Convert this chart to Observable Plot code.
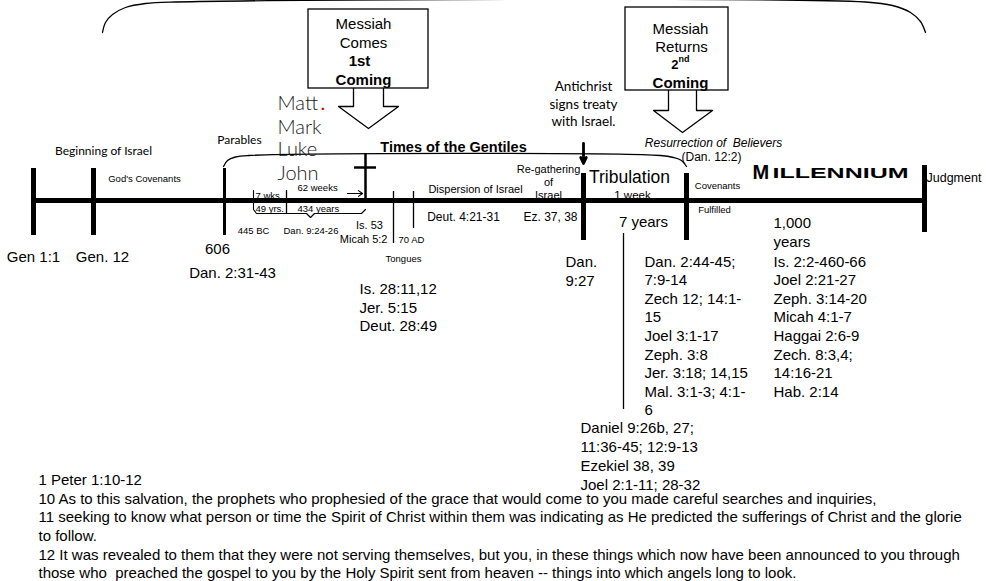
<!DOCTYPE html>
<html><head><meta charset="utf-8">
<script src="https://cdn.jsdelivr.net/npm/d3@7"></script>
<script src="https://cdn.jsdelivr.net/npm/@observablehq/plot@0.6"></script>
<style>html,body{margin:0;padding:0;background:#fff}</style>
</head><body><div id="chart"></div>
<script>
// ---------- DATA (diagram units along the timeline) ----------
const timeline = [{x1: 33, x2: 924, y: 200}];
const majorTicks = [
  {x: 33, y1: 168, y2: 235},   // Gen 1:1
  {x: 93, y1: 168, y2: 235},   // Gen 12
  {x: 583, y1: 173, y2: 240},  // Tribulation begins
  {x: 686, y1: 173, y2: 240},  // 2nd coming
  {x: 924, y1: 165, y2: 232}   // Judgment
];
const mediumTicks = [{x: 224, y1: 168, y2: 235}]; // 606
const thinTicks = [
  {x: 286, y1: 190, y2: 213},
  {x: 393, y1: 191, y2: 243},
  {x: 413, y1: 191, y2: 228},
  {x: 623, y1: 233, y2: 409}
];
const crossUpright = [{x: 365, y1: 153, y2: 200}];
const crossBeam = [{y: 167, x1: 354, x2: 376}];

const brackets = [
  // outer arc
  {id: "outer", x: 102, y: 32}, {id: "outer", x: 105, y: 22}, {id: "outer", x: 112, y: 14},
  {id: "outer", x: 125, y: 7}, {id: "outer", x: 145, y: 3}, {id: "outer", x: 175, y: 1.5},
  {id: "outer", x: 865, y: 1.5}, {id: "outer", x: 892, y: 5}, {id: "outer", x: 910, y: 12},
  {id: "outer", x: 920, y: 21}, {id: "outer", x: 925, y: 32},
  // Times of the Gentiles
  {id: "gentiles", x: 223, y: 166}, {id: "gentiles", x: 227, y: 160}, {id: "gentiles", x: 235, y: 156.5},
  {id: "gentiles", x: 248, y: 155}, {id: "gentiles", x: 660, y: 155}, {id: "gentiles", x: 673, y: 157},
  {id: "gentiles", x: 681, y: 160}, {id: "gentiles", x: 686, y: 166}
];
const weeksBrace = [
  {x: 253, y: 190}, {x: 253, y: 209}, {x: 256, y: 213}, {x: 306, y: 213}, {x: 310, y: 217},
  {x: 314, y: 213}, {x: 361, y: 213}, {x: 365, y: 209}
];
const boxes = [{x1: 308, y1: 9, x2: 428, y2: 88}, {x1: 625, y1: 7, x2: 728, y2: 90}];
const blockArrows = [
  {id: 1, x: 353, y: 88}, {id: 1, x: 353, y: 106}, {id: 1, x: 338, y: 106}, {id: 1, x: 368, y: 128},
  {id: 1, x: 398, y: 106}, {id: 1, x: 383, y: 106}, {id: 1, x: 383, y: 88},
  {id: 2, x: 668, y: 90}, {id: 2, x: 668, y: 110}, {id: 2, x: 653, y: 110}, {id: 2, x: 682, y: 132},
  {id: 2, x: 712, y: 110}, {id: 2, x: 696, y: 110}, {id: 2, x: 696, y: 90}
];
const treatyArrow = [{x: 583, y1: 143, y2: 163}];
const weeksArrow = [{x1: 347, x2: 362, y: 193}];

// ---------- TEXT ----------
const refsLarge = [
  {t: "Gen 1:1", x: 33, y: 257}, {t: "Gen. 12", x: 102, y: 257},
  {t: "606", x: 217, y: 249}, {t: "Dan. 2:31-43", x: 232, y: 273},
  {t: "7 years", x: 643, y: 222},
  {t: "Messiah", x: 363, y: 24}, {t: "Comes", x: 363, y: 43},
  {t: "Messiah", x: 680, y: 29}, {t: "Returns", x: 681, y: 47}
];
const boxBold = [{t: "1st", x: 359, y: 61}, {t: "Coming", x: 363, y: 80}, {t: "Coming", x: 680, y: 83}];
const refsLargeStart = [
  {t: "Dan.", x: 565, y: 262}, {t: "9:27", x: 565, y: 281},
  {t: "1,000", x: 773, y: 223}, {t: "years", x: 773, y: 242}
];
const tribRefs = ["Dan. 2:44-45;", "7:9-14", "Zech 12; 14:1-", "15", "Joel 3:1-17", "Zeph. 3:8",
  "Jer. 3:18; 14,15", "Mal. 3:1-3; 4:1-", "6"];
const millRefs = ["Is. 2:2-460-66", "Joel 2:21-27", "Zeph. 3:14-20", "Micah 4:1-7", "Haggai 2:6-9",
  "Zech. 8:3,4;", "14:16-21", "Hab. 2:14"];
const danielRefs = ["Daniel 9:26b, 27;", "11:36-45; 12:9-13", "Ezekiel 38, 39", "Joel 2:1-11; 28-32"];
const tonguesRefs = ["Is. 28:11,12", "Jer. 5:15", "Deut. 28:49"];
const passage = [
  "1 Peter 1:10-12",
  "10 As to this salvation, the prophets who prophesied of the grace that would come to you made careful searches and inquiries,",
  "11 seeking to know what person or time the Spirit of Christ within them was indicating as He predicted the sufferings of Christ and the glorie",
  "to follow.",
  "12 It was revealed to them that they were not serving themselves, but you, in these things which now have been announced to you through",
  "those who  preached the gospel to you by the Holy Spirit sent from heaven -- things into which angels long to look."
];
const listBlocks = [
  {t: tribRefs.join("\n"), x: 644, y: 252.8},
  {t: millRefs.join("\n"), x: 773, y: 252.8}
];
const danielBlock = [{t: danielRefs.join("\n"), x: 580, y: 418.8}];
const tonguesBlock = [{t: tonguesRefs.join("\n"), x: 359, y: 280.8}];
const passageBlock = [{t: passage.join("\n"), x: 38, y: 471.5}];

const midLabels12 = [
  {t: "Deut. 4:21-31", x: 463, y: 217}, {t: "Ez. 37, 38", x: 550, y: 217}
];
const midLabels11 = [{t: "Is. 53", x: 369, y: 225}, {t: "Dispersion of Israel", x: 475, y: 189}];
const micahLabel = [{t: "Micah 5:2", x: 387, y: 239}];
const smallStart = [
  {t: "70 AD", x: 398, y: 239, }, {t: "62 weeks", x: 297, y: 187}, {t: "434 years", x: 297, y: 208},
  {t: "Dan. 9:24-26", x: 283, y: 230}, {t: "7 wks", x: 255, y: 195}, {t: "49 yrs.", x: 255, y: 208}
];
const smallMid = [
  {t: "God's Covenants", x: 144, y: 178}, {t: "Tongues", x: 403, y: 258}, {t: "445 BC", x: 253, y: 230},
  {t: "Covenants", x: 717, y: 185}, {t: "Fulfilled", x: 714, y: 209}
];
const regather = [{t: "Re-gathering\nof\nIsrael", x: 548, y: 163}];
const weekLabel = [{t: "1 week", x: 632, y: 195}];
const tribLabel = [{t: "Tribulation", x: 629, y: 177}];
const judgment = [{t: "Judgment", x: 926, y: 177}];
const resurrection = [{t: "Resurrection of  Believers", x: 713, y: 143}];
const resurrectionRef = [{t: "(Dan. 12:2)", x: 711, y: 157}];
const gentiles = [{t: "Times of the Gentiles", x: 453, y: 147}];
const calibriLabels = [{t: "Beginning of Israel", x: 103, y: 151}, {t: "Parables", x: 239, y: 140}];
const antichrist = [{t: "Antichrist", x: 583, y: 86}, {t: "signs treaty", x: 583, y: 104}, {t: "with Israel.", x: 583, y: 121}];
const gospels = [{t: "Matt", x: 277, y: 103}, {t: "Mark", x: 277, y: 127}, {t: "Luke", x: 277, y: 149}, {t: "John", x: 277, y: 173}];
const mattDot = [{t: ".", x: 320, y: 103}];
const millM = [{t: "M", x: 752, y: 172}];
const millRest = [{t: "ILLENNIUM", x: 772, y: 173}];
const secondNum = [{t: "2", x: 678, y: 64}];
const secondSup = [{t: "nd", x: 678, y: 59}];

// ---------- RENDER ----------
const ARIAL = "Liberation Sans, Arial, Helvetica, sans-serif";
const CAL = "Lato, 'Open Sans', sans-serif";
const T = (data, o) => Plot.text(data, {x: "x", y: "y", text: "t", fill: "#000", fontFamily: ARIAL, ...o});

const svg = Plot.plot({
  width: 986, height: 581, margin: 0,
  x: {domain: [0, 986], range: [0, 986], axis: null},
  y: {domain: [0, 581], range: [0, 581], axis: null},
  style: {background: "white", fontFamily: ARIAL, color: "black"},
  marks: [
    // labels that the timeline overprints
    T(regather, {fontSize: 11, lineAnchor: "top", lineHeight: 1.2}),
    T(weekLabel, {fontSize: 11.5}),
    T(smallStart, {fontSize: 9.5, textAnchor: "start"}),
    // lines
    Plot.line(brackets, {x: "x", y: "y", z: "id", curve: "catmull-rom", stroke: "black", strokeWidth: 1.3}),
    Plot.line(weeksBrace, {x: "x", y: "y", stroke: "black", strokeWidth: 1.1}),
    Plot.ruleY(timeline, {y: "y", x1: "x1", x2: "x2", stroke: "black", strokeWidth: 5}),
    Plot.ruleX(majorTicks, {x: "x", y1: "y1", y2: "y2", stroke: "black", strokeWidth: 5}),
    Plot.ruleX(mediumTicks, {x: "x", y1: "y1", y2: "y2", stroke: "black", strokeWidth: 3}),
    Plot.ruleX(thinTicks, {x: "x", y1: "y1", y2: "y2", stroke: "black", strokeWidth: 1.3}),
    Plot.ruleX(crossUpright, {x: "x", y1: "y1", y2: "y2", stroke: "black", strokeWidth: 2.5}),
    Plot.ruleY(crossBeam, {y: "y", x1: "x1", x2: "x2", stroke: "black", strokeWidth: 2.5}),
    Plot.arrow(treatyArrow, {x1: "x", x2: "x", y1: "y1", y2: "y2", stroke: "black", strokeWidth: 2.8, headLength: 8, headAngle: 50}),
    Plot.arrow(weeksArrow, {x1: "x1", x2: "x2", y1: "y", y2: "y", stroke: "black", strokeWidth: 1.2, headLength: 8, headAngle: 70}),
    Plot.rect(boxes, {x1: "x1", x2: "x2", y1: "y1", y2: "y2", fill: "white", stroke: "black", strokeWidth: 1.3}),
    Plot.line(blockArrows, {x: "x", y: "y", z: "id", stroke: "black", strokeWidth: 1.3}),
    // text
    T(refsLarge, {fontSize: 15}),
    T(boxBold, {fontSize: 15, fontWeight: "bold"}),
    T(secondNum, {fontSize: 13, fontWeight: "bold", textAnchor: "end"}),
    T(secondSup, {fontSize: 9, fontWeight: "bold", textAnchor: "start"}),
    T(refsLargeStart, {fontSize: 15, textAnchor: "start"}),
    T(listBlocks, {fontSize: 15, textAnchor: "start", lineAnchor: "top", lineHeight: 1.24}),
    T(danielBlock, {fontSize: 15, textAnchor: "start", lineAnchor: "top", lineHeight: 1.27}),
    T(tonguesBlock, {fontSize: 15, textAnchor: "start", lineAnchor: "top", lineHeight: 1.23}),
    T(passageBlock, {fontSize: 15, textAnchor: "start", lineAnchor: "top", lineHeight: 1.24}),
    T(midLabels12, {fontSize: 12}),
    T(midLabels11, {fontSize: 11}),
    T(micahLabel, {fontSize: 11, textAnchor: "end"}),
    T(smallMid, {fontSize: 9.5}),
    T(tribLabel, {fontSize: 17.5}),
    T(judgment, {fontSize: 12.5, textAnchor: "start"}),
    T(resurrection, {fontSize: 12, fontStyle: "italic"}),
    T(resurrectionRef, {fontSize: 12}),
    T(gentiles, {fontSize: 14.5, fontWeight: "bold"}),
    T(calibriLabels, {fontSize: 12, fontFamily: CAL}),
    T(antichrist, {fontSize: 13.5, fontFamily: CAL}),
    T(gospels, {fontSize: 20, fontFamily: CAL, fontWeight: 300, fill: "#1a1a1a", textAnchor: "start"}),
    T(mattDot, {fontSize: 20, fontFamily: CAL, fill: "#e00000", textAnchor: "start"}),
    T(millM, {fontSize: 20, fontWeight: "bold", textAnchor: "start"}),
    T(millRest, {fontSize: 15, fontWeight: "bold", textAnchor: "start"})
  ]
});
d3.select(svg).selectAll("text").filter(function () { return this.textContent === "ILLENNIUM"; })
  .attr("textLength", 136).attr("lengthAdjust", "spacingAndGlyphs");
document.getElementById("chart").appendChild(svg);
</script></body></html>
